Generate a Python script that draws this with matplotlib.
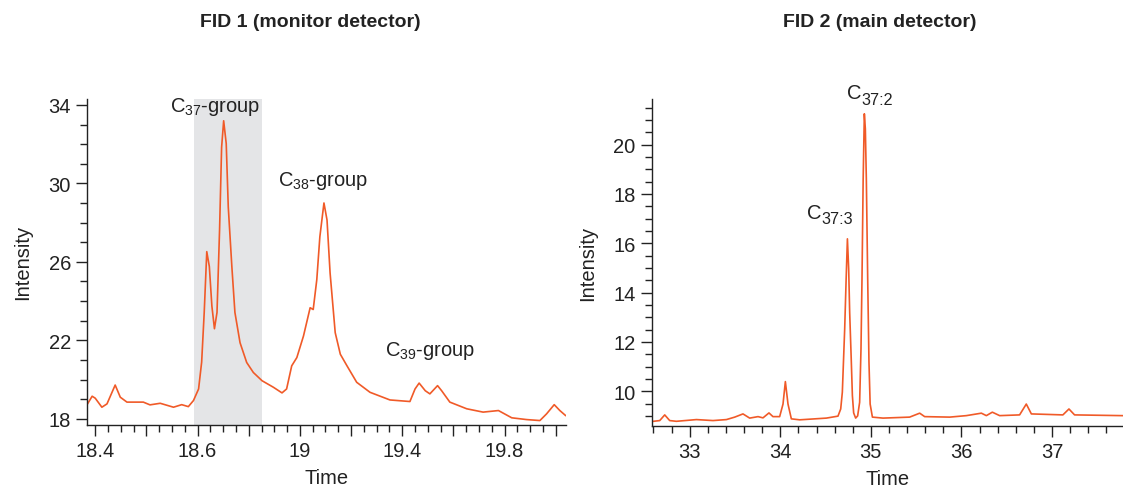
"""Two FID chromatogram traces side by side."""

import matplotlib
matplotlib.use("Agg")
import matplotlib.pyplot as plt
from matplotlib.ticker import FixedLocator, FixedFormatter, MultipleLocator

plt.rcParams["font.family"] = ["Liberation Sans", "DejaVu Sans"]
plt.rcParams["mathtext.default"] = "regular"

# FID 1 (monitor detector) trace
fid1_time = [18.385, 18.394, 18.400, 18.413, 18.423, 18.439, 18.449, 18.462, 18.494,
             18.507, 18.527, 18.553, 18.569, 18.582, 18.592, 18.602, 18.608, 18.613,
             18.618, 18.623, 18.628, 18.633, 18.638, 18.643, 18.647, 18.651, 18.656,
             18.660, 18.667, 18.673, 18.683, 18.696, 18.709, 18.726, 18.748, 18.765,
             18.774, 18.784, 18.794, 18.807, 18.820, 18.826, 18.833, 18.839, 18.847,
             18.853, 18.859, 18.869, 18.879, 18.892, 18.911, 18.937, 18.976, 19.015,
             19.025, 19.033, 19.045, 19.054, 19.069, 19.077, 19.093, 19.126, 19.158,
             19.188, 19.214, 19.243, 19.269, 19.282, 19.297, 19.308, 19.319]
fid1_signal = [18.76, 19.15, 19.05, 18.59, 18.76, 19.72, 19.10, 18.85, 18.85,
               18.71, 18.79, 18.59, 18.72, 18.62, 18.93, 19.52, 20.89, 23.42,
               26.52, 25.76, 23.74, 22.59, 23.42, 27.62, 31.84, 33.19, 32.03,
               28.80, 25.76, 23.42, 21.88, 20.87, 20.36, 19.94, 19.61, 19.32,
               19.52, 20.70, 21.12, 22.22, 23.66, 23.57, 25.09, 27.28, 29.00,
               28.13, 25.43, 22.39, 21.29, 20.70, 19.86, 19.35, 18.96, 18.88,
               19.52, 19.82, 19.43, 19.27, 19.69, 19.43, 18.85, 18.51, 18.34,
               18.42, 18.05, 17.96, 17.91, 18.25, 18.72, 18.42, 18.17]
fid1_window = (18.593, 18.726)
fid1_xticks = [18.4, 18.5, 18.6, 18.7, 18.8, 18.9, 19.0, 19.1, 19.2, 19.3]
fid1_xlabels = ["18.4", "", "18.6", "", "19", "", "19.4", "", "19.8", ""]
fid1_yticks = [18, 22, 26, 30, 34]

# FID 2 (main detector) trace
fid2_time = [32.577, 32.669, 32.724, 32.779, 32.853, 33.074, 33.257, 33.405, 33.497,
             33.588, 33.662, 33.754, 33.809, 33.875, 33.919, 33.993, 34.030, 34.056,
             34.085, 34.122, 34.214, 34.509, 34.637, 34.667, 34.685, 34.711, 34.727,
             34.741, 34.755, 34.766, 34.783, 34.796, 34.810, 34.832, 34.854, 34.876,
             34.891, 34.902, 34.915, 34.928, 34.939, 34.950, 34.965, 34.979, 34.992,
             35.017, 35.134, 35.428, 35.539, 35.594, 35.870, 36.054, 36.220, 36.275,
             36.341, 36.422, 36.642, 36.716, 36.772, 37.120, 37.187, 37.249, 37.776]
fid2_signal = [8.77, 8.81, 9.04, 8.81, 8.78, 8.85, 8.81, 8.85, 8.95,
               9.08, 8.91, 8.97, 8.92, 9.12, 8.97, 8.97, 9.48, 10.39,
               9.48, 8.88, 8.84, 8.91, 8.99, 9.28, 9.96, 12.53, 14.55,
               16.18, 14.96, 13.20, 11.33, 9.82, 9.12, 8.91, 9.00, 9.55,
               11.72, 14.55, 18.61, 21.25, 20.64, 18.61, 14.55, 11.18, 9.48,
               8.95, 8.91, 8.95, 9.11, 8.97, 8.95, 9.01, 9.11, 9.01,
               9.15, 9.01, 9.04, 9.48, 9.08, 9.04, 9.28, 9.04, 9.01]

LINE = "#f05a28"
INK = "#222222"
FS = 14.5


def peak_label(ax, x, y, sub):
    """'C' with a subscript drawn as a second, smaller text (keeps ':' tight)."""
    ax.annotate("C", (x, y), xytext=(-6, 0), textcoords="offset points",
                fontsize=FS, color=INK, ha="right", va="center", annotation_clip=False)
    ax.annotate(sub, (x, y), xytext=(-6, -4.5), textcoords="offset points",
                fontsize=FS * 0.8, color=INK, ha="left", va="center",
                annotation_clip=False)


fig = plt.figure(figsize=(11.23, 4.89), dpi=100)
ax1 = fig.add_axes([0.0775, 0.1295, 0.4265, 0.666])
ax2 = fig.add_axes([0.5803, 0.1268, 0.4194, 0.6687])

for ax in (ax1, ax2):
    for side in ("top", "right"):
        ax.spines[side].set_visible(False)
    for side in ("left", "bottom"):
        ax.spines[side].set_color(INK)
        ax.spines[side].set_linewidth(1.0)
    ax.tick_params(which="major", direction="out", length=8, width=1.0,
                   colors=INK, labelsize=FS)
    ax.tick_params(which="minor", direction="out", length=5, width=1.0, colors=INK)
    ax.set_xlabel("Time", fontsize=FS, color=INK, labelpad=6)
    ax.set_ylabel("Intensity", fontsize=FS, color=INK, labelpad=12)

# left panel
ax1.axvspan(*fid1_window, color="#e4e5e7", lw=0, zorder=0)
ax1.plot(fid1_time, fid1_signal, color=LINE, lw=1.2)
ax1.set_xlim(18.384, 19.32)
ax1.set_ylim(17.7, 34.3)
ax1.xaxis.set_major_locator(FixedLocator(fid1_xticks))
ax1.xaxis.set_major_formatter(FixedFormatter(fid1_xlabels))
ax1.xaxis.set_minor_locator(MultipleLocator(0.025))
ax1.yaxis.set_major_locator(FixedLocator(fid1_yticks))
ax1.yaxis.set_minor_locator(MultipleLocator(1))
ax1.text(18.634, 33.95, "C$_{37}$-group", fontsize=FS, color=INK, ha="center", va="center")
ax1.text(18.845, 30.15, "C$_{38}$-group", fontsize=FS, color=INK, ha="center", va="center")
ax1.text(19.054, 21.5, "C$_{39}$-group", fontsize=FS, color=INK, ha="center", va="center")

# right panel
ax2.plot(fid2_time, fid2_signal, color=LINE, lw=1.2)
ax2.set_xlim(32.58, 37.78)
ax2.set_ylim(8.59, 21.85)
ax2.xaxis.set_major_locator(MultipleLocator(1))
ax2.xaxis.set_minor_locator(MultipleLocator(0.2))
ax2.yaxis.set_major_locator(MultipleLocator(2))
ax2.yaxis.set_minor_locator(MultipleLocator(0.5))
peak_label(ax2, 34.99, 22.10, "37:2")
peak_label(ax2, 34.545, 17.25, "37:3")

fig.text(0.276, 0.955, "FID 1 (monitor detector)", fontsize=14, fontweight="bold",
         color=INK, ha="center", va="center")
fig.text(0.783, 0.955, "FID 2 (main detector)", fontsize=14, fontweight="bold",
         color=INK, ha="center", va="center")

fig.savefig("out.png", dpi=100)
